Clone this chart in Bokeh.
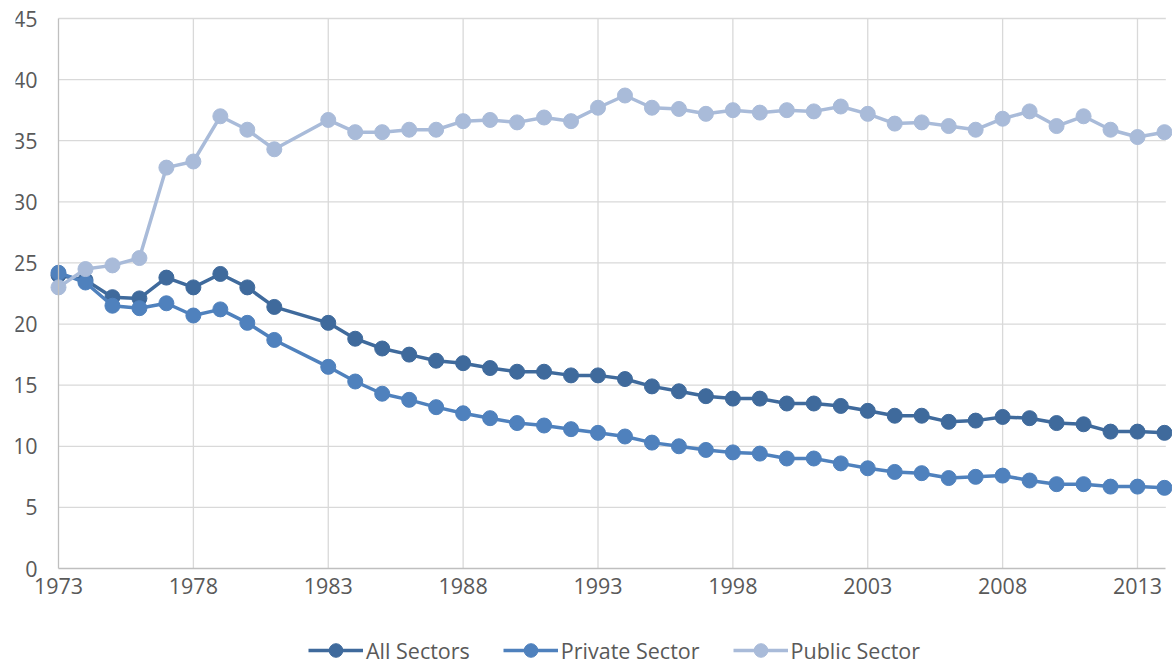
from bokeh.plotting import figure
from bokeh.models import Range1d, FixedTicker, Legend, LegendItem
from bokeh.embed import file_html
from bokeh.resources import INLINE

years = [1973, 1974, 1975, 1976, 1977, 1978, 1979, 1980, 1981,
         1983, 1984, 1985, 1986, 1987, 1988, 1989, 1990, 1991, 1992,
         1993, 1994, 1995, 1996, 1997, 1998, 1999, 2000, 2001, 2002,
         2003, 2004, 2005, 2006, 2007, 2008, 2009, 2010, 2011, 2012,
         2013, 2014]

all_sectors = [24.0, 23.6, 22.2, 22.1, 23.8, 23.0, 24.1, 23.0, 21.4,
               20.1, 18.8, 18.0, 17.5, 17.0, 16.8, 16.4, 16.1, 16.1, 15.8,
               15.8, 15.5, 14.9, 14.5, 14.1, 13.9, 13.9, 13.5, 13.5, 13.3,
               12.9, 12.5, 12.5, 12.0, 12.1, 12.4, 12.3, 11.9, 11.8, 11.2,
               11.2, 11.1]

private_sector = [24.2, 23.4, 21.5, 21.3, 21.7, 20.7, 21.2, 20.1, 18.7,
                  16.5, 15.3, 14.3, 13.8, 13.2, 12.7, 12.3, 11.9, 11.7, 11.4,
                  11.1, 10.8, 10.3, 10.0, 9.7, 9.5, 9.4, 9.0, 9.0, 8.6,
                  8.2, 7.9, 7.8, 7.4, 7.5, 7.6, 7.2, 6.9, 6.9, 6.7,
                  6.7, 6.6]

public_sector = [23.0, 24.5, 24.8, 25.4, 32.8, 33.3, 37.0, 35.9, 34.3,
                 36.7, 35.7, 35.7, 35.9, 35.9, 36.6, 36.7, 36.5, 36.9, 36.6,
                 37.7, 38.7, 37.7, 37.6, 37.2, 37.5, 37.3, 37.5, 37.4, 37.8,
                 37.2, 36.4, 36.5, 36.2, 35.9, 36.8, 37.4, 36.2, 37.0, 35.9,
                 35.3, 35.7]

x_ticks = [1973, 1978, 1983, 1988, 1993, 1998, 2003, 2008, 2013]
y_ticks = [0, 5, 10, 15, 20, 25, 30, 35, 40, 45]

series_names = ["All Sectors", "Private Sector", "Public Sector"]
series_colors = ["#3F6A9C", "#4F81BD", "#A9BBD9"]

PX_PER_YEAR = 26.975
PX_PER_UNIT = 550 / 45
X0 = 1973 - 43 / PX_PER_YEAR
X1 = X0 + 1157 / PX_PER_YEAR
Y_TOP = 45
Y0 = -96 / PX_PER_UNIT          # room below the zero line for tick labels & legend
Y1 = Y_TOP + 18 / PX_PER_UNIT   # room above for the top tick label
X_GRID_END = years[-1] + 0.05
FONT = "Open Sans"
TXT = "#595959"
GRID = "#D9D9D9"
AXIS = "#BFBFBF"

p = figure(width=1172, height=664, output_backend="svg", toolbar_location=None,
           x_range=Range1d(X0, X1), y_range=Range1d(Y0, Y1),
           min_border_left=15, min_border_right=0, min_border_top=0,
           min_border_bottom=0)
p.outline_line_color = None
p.xgrid.visible = False
p.ygrid.visible = False

# axes drawn inside the frame at x=1973 / y=0
p.xaxis.ticker = FixedTicker(ticks=x_ticks)
p.yaxis.ticker = FixedTicker(ticks=y_ticks)
p.xaxis.fixed_location = 0
p.yaxis.fixed_location = x_ticks[0]
p.xaxis.bounds = (x_ticks[0], X_GRID_END)
p.yaxis.bounds = (0, Y_TOP)
for ax in (p.xaxis, p.yaxis):
    ax.axis_line_color = AXIS
    ax.axis_line_width = 1.3
    ax.major_tick_line_color = None
    ax.minor_tick_line_color = None
    ax.major_label_text_font = FONT
    ax.major_label_text_font_size = "21.5px"
    ax.major_label_text_color = TXT
p.xaxis.major_label_standoff = 3
p.yaxis.major_label_standoff = 15

# grid lines (limited to the 0..45 area)
hy = y_ticks[1:]
p.segment(x0=[x_ticks[0]] * len(hy), x1=[X_GRID_END] * len(hy), y0=hy, y1=hy,
          line_color=GRID, line_width=1.3, level="underlay")
vx = x_ticks[1:]
p.segment(x0=vx, x1=vx, y0=[0] * len(vx), y1=[Y_TOP] * len(vx),
          line_color=GRID, line_width=1.3, level="underlay")

items = []
for name, vals, col in zip(series_names, [all_sectors, private_sector, public_sector], series_colors):
    r1 = p.line(years, vals, line_color=col, line_width=3.5)
    r2 = p.scatter(years, vals, size=15, fill_color=col, line_color=col)
    items.append(LegendItem(label=name, renderers=[r1, r2]))

legend = Legend(items=items, orientation="horizontal", location=(293, -3),
                label_text_font=FONT, label_text_font_size="21.5px",
                label_text_color=TXT, glyph_width=55, glyph_height=34,
                label_standoff=3, spacing=33, padding=0, margin=0,
                border_line_color=None, background_fill_alpha=0)
p.add_layout(legend, "center")

open("out.html", "w").write(file_html(p, INLINE))
